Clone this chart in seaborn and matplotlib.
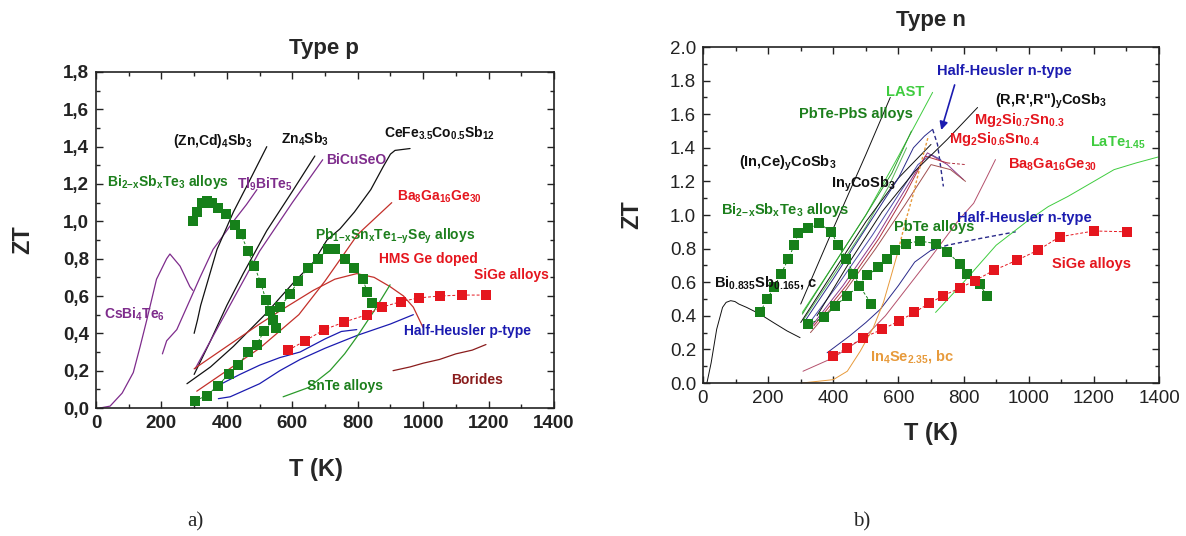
import matplotlib
matplotlib.use("Agg")
import matplotlib.pyplot as plt
from matplotlib.ticker import MultipleLocator
import seaborn as sns

# ---------------- data : Type p ----------------
cs_T = [12, 43, 80, 114, 135, 155, 185, 216, 226, 257, 287, 296]
cs_ZT = [0.0, 0.01, 0.08, 0.19, 0.33, 0.47, 0.69, 0.80, 0.825, 0.76, 0.65, 0.63]
tl_T = [203, 216, 247, 280, 318, 358, 379, 420, 460, 492]
tl_ZT = [0.29, 0.36, 0.42, 0.55, 0.70, 0.85, 0.90, 1.00, 1.09, 1.17]
zncd_T = [300, 310, 320, 370, 420, 470, 522]
zncd_ZT = [0.40, 0.47, 0.55, 0.85, 1.05, 1.22, 1.40]
zn4_T = [300, 350, 400, 450, 522, 600, 669]
zn4_ZT = [0.18, 0.36, 0.55, 0.72, 0.95, 1.16, 1.35]
bicu_T = [303, 350, 400, 450, 500, 600, 693]
bicu_ZT = [0.21, 0.36, 0.52, 0.68, 0.84, 1.10, 1.33]
cefe_T = [278, 350, 420, 471, 522, 562, 603, 664, 706, 746, 790, 840, 877, 900, 914, 960]
cefe_ZT = [0.13, 0.22, 0.33, 0.42, 0.51, 0.59, 0.67, 0.78, 0.90, 0.96, 1.05, 1.17, 1.29, 1.36, 1.38, 1.39]
bap_T = [308, 400, 500, 560, 620, 700, 800, 904]
bap_ZT = [0.09, 0.20, 0.32, 0.41, 0.50, 0.68, 0.93, 1.10]
hms_T = [300, 400, 500, 562, 664, 730, 797, 850, 899, 940, 970, 1000]
hms_ZT = [0.21, 0.33, 0.45, 0.52, 0.63, 0.69, 0.72, 0.70, 0.65, 0.60, 0.54, 0.43]
hh1_T = [384, 440, 501, 562, 624, 700, 750, 797]
hh1_ZT = [0.13, 0.18, 0.23, 0.27, 0.30, 0.37, 0.41, 0.42]
hh2_T = [374, 410, 500, 562, 624, 700, 800, 900, 970]
hh2_ZT = [0.05, 0.06, 0.13, 0.20, 0.26, 0.32, 0.39, 0.45, 0.50]
snte_T = [572, 650, 715, 760, 797, 850, 899]
snte_ZT = [0.06, 0.11, 0.20, 0.29, 0.38, 0.52, 0.66]
bor_T = [908, 960, 1000, 1050, 1100, 1150, 1192]
bor_ZT = [0.20, 0.22, 0.24, 0.26, 0.29, 0.31, 0.34]
bisb_p_T = [296, 308, 323, 338, 354, 373, 397, 425, 443, 465, 484, 504, 519, 532, 540, 550]
bisb_p_ZT = [1.00, 1.05, 1.10, 1.11, 1.10, 1.07, 1.04, 0.98, 0.93, 0.84, 0.76, 0.67, 0.58, 0.52, 0.47, 0.43]
pb_T = [303, 338, 372, 406, 435, 465, 491, 513, 540, 562, 593, 618, 648, 679, 709, 730, 761, 789, 816, 829, 844]
pb_ZT = [0.04, 0.065, 0.12, 0.18, 0.23, 0.30, 0.34, 0.41, 0.47, 0.54, 0.61, 0.68, 0.75, 0.80, 0.85, 0.85, 0.80, 0.75, 0.69, 0.62, 0.56]
sigep_T = [588, 639, 698, 758, 828, 874, 932, 988, 1051, 1119, 1192]
sigep_ZT = [0.31, 0.36, 0.42, 0.46, 0.50, 0.54, 0.57, 0.59, 0.60, 0.605, 0.605]

# ---------------- data : Type n ----------------
bi835_T = [12, 25, 42, 60, 71, 85, 98, 110, 134, 175, 216, 258, 298]
bi835_ZT = [0.0, 0.12, 0.32, 0.45, 0.48, 0.49, 0.485, 0.47, 0.45, 0.41, 0.36, 0.31, 0.27]
bisb_n_T = [175, 197, 218, 240, 262, 280, 292, 323, 357, 394, 415, 440, 462, 480, 517]
bisb_n_ZT = [0.42, 0.50, 0.57, 0.65, 0.74, 0.82, 0.89, 0.92, 0.95, 0.90, 0.82, 0.74, 0.65, 0.58, 0.47]
pbte_T = [323, 372, 406, 443, 480, 505, 538, 566, 591, 624, 665, 714, 750, 788, 812, 849, 871]
pbte_ZT = [0.35, 0.39, 0.46, 0.52, 0.58, 0.64, 0.69, 0.74, 0.79, 0.83, 0.845, 0.83, 0.78, 0.71, 0.65, 0.59, 0.52]
sigen_T = [400, 443, 492, 551, 603, 649, 695, 738, 788, 836, 892, 963, 1028, 1095, 1200, 1302]
sigen_ZT = [0.16, 0.21, 0.27, 0.32, 0.37, 0.42, 0.475, 0.52, 0.565, 0.61, 0.67, 0.73, 0.79, 0.87, 0.905, 0.90]
inc_T = [300, 400, 500, 575]
inc_ZT = [0.47, 0.92, 1.36, 1.70]
last_T = [305, 400, 500, 600, 705]
last_ZT = [0.42, 0.70, 1.00, 1.35, 1.73]
pbs1_T = [305, 400, 500, 580, 640]
pbs1_ZT = [0.41, 0.70, 1.00, 1.25, 1.50]
pbs2_T = [310, 400, 500, 570, 625]
pbs2_ZT = [0.38, 0.64, 0.93, 1.17, 1.40]
inco_T = [300, 400, 500, 600, 700]
inco_ZT = [0.36, 0.66, 0.96, 1.22, 1.42]
hht1_T = [310, 400, 500, 600, 646, 680, 705, 720, 738]
hht1_ZT = [0.36, 0.62, 0.92, 1.22, 1.40, 1.47, 1.51, 1.42, 1.17]
hht2_T = [320, 420, 520, 600, 660, 700, 730]
hht2_ZT = [0.34, 0.60, 0.88, 1.12, 1.30, 1.36, 1.33]
purp_T = [330, 430, 530, 620, 689, 750, 800]
purp_ZT = [0.33, 0.58, 0.86, 1.15, 1.37, 1.30, 1.21]
mg73_T = [340, 440, 540, 620, 683, 750, 806]
mg73_ZT = [0.34, 0.58, 0.86, 1.12, 1.35, 1.31, 1.30]
mg64_T = [330, 430, 530, 620, 700, 760, 806]
mg64_ZT = [0.30, 0.53, 0.80, 1.06, 1.30, 1.27, 1.20]
rrr_T = [350, 450, 550, 650, 750, 843]
rrr_ZT = [0.40, 0.72, 1.02, 1.26, 1.45, 1.64]
ban_T = [307, 400, 500, 560, 620, 700, 785, 831, 870, 898]
ban_ZT = [0.07, 0.15, 0.28, 0.40, 0.55, 0.75, 0.97, 1.07, 1.22, 1.33]
hhl_T = [381, 450, 500, 545, 600, 650, 700, 750, 850, 960]
hhl_ZT = [0.18, 0.28, 0.36, 0.44, 0.58, 0.72, 0.79, 0.82, 0.86, 0.90]
late_T = [714, 800, 900, 1000, 1060, 1120, 1200, 1262, 1330, 1397]
late_ZT = [0.42, 0.60, 0.82, 0.97, 1.05, 1.11, 1.20, 1.27, 1.31, 1.345]
in4_T = [304, 400, 443, 483, 523, 554, 575, 597, 620, 645, 668, 692]
in4_ZT = [0.0, 0.02, 0.07, 0.19, 0.33, 0.48, 0.62, 0.77, 0.95, 1.12, 1.30, 1.47]

# ticks
x_ticks = [0, 200, 400, 600, 800, 1000, 1200, 1400]
yticks_p = [0, 0.2, 0.4, 0.6, 0.8, 1.0, 1.2, 1.4, 1.6, 1.8]
ylabels_p = ["0,0", "0,2", "0,4", "0,6", "0,8", "1,0", "1,2", "1,4", "1,6", "1,8"]
yticks_n = [0, 0.2, 0.4, 0.6, 0.8, 1.0, 1.2, 1.4, 1.6, 1.8, 2.0]
ylabels_n = ["0.0", "0.2", "0.4", "0.6", "0.8", "1.0", "1.2", "1.4", "1.6", "1.8", "2.0"]

BLACK = "#111111"
GREEN = "#1c7f1c"
SQGREEN = "#16801a"
RED = "#e5161e"
PURPLE = "#7e2c8c"
BLUE = "#1b1bb0"
BROWN = "#8a1c1c"
DRED = "#c3302a"
LGREEN = "#3fcc3f"
ORANGE = "#e79a3b"
MAUVE = "#b4506c"
NAVY = "#2a2a8a"

# text labels (text, T, ZT, colour)
labels_p = [
    ("(Zn,Cd)$_4$Sb$_3$", 358, 1.43, BLACK),
    ("Zn$_4$Sb$_3$", 640, 1.44, BLACK),
    ("CeFe$_{3.5}$Co$_{0.5}$Sb$_{12}$", 1051, 1.47, BLACK),
    ("BiCuSeO", 795, 1.33, PURPLE),
    ("Tl$_9$BiTe$_5$", 516, 1.20, PURPLE),
    ("Bi$_{2\\!-\\!x}$Sb$_x$Te$_3$ alloys", 221, 1.21, GREEN),
    ("Ba$_8$Ga$_{16}$Ge$_{30}$", 1049, 1.13, RED),
    ("Pb$_{1\\!-\\!x}$Sn$_x$Te$_{1\\!-\\!y}$Se$_y$ alloys", 914, 0.92, GREEN),
    ("HMS Ge doped", 1016, 0.80, RED),
    ("SiGe alloys", 1269, 0.71, RED),
    ("Half-Heusler p-type", 1135, 0.41, BLUE),
    ("SnTe alloys", 761, 0.12, GREEN),
    ("Borides", 1165, 0.15, BROWN),
    ("CsBi$_4$Te$_6$", 119, 0.50, PURPLE),
]
labels_n = [
    ("Half-Heusler n-type", 926, 1.86, BLUE),
    ("LAST", 622, 1.73, LGREEN),
    ("PbTe-PbS alloys", 471, 1.60, GREEN),
    ("(R,R',R'')$_y$CoSb$_3$", 1068, 1.675, BLACK),
    ("Mg$_2$Si$_{0.7}$Sn$_{0.3}$", 972, 1.565, RED),
    ("Mg$_2$Si$_{0.6}$Sn$_{0.4}$", 895, 1.45, RED),
    ("LaTe$_{1.45}$", 1274, 1.43, LGREEN),
    ("(In,Ce)$_y$CoSb$_3$", 259, 1.31, BLACK),
    ("Ba$_8$Ga$_{16}$Ge$_{30}$", 1074, 1.30, RED),
    ("In$_y$CoSb$_3$", 492, 1.18, BLACK),
    ("Bi$_{2\\!-\\!x}$Sb$_x$Te$_3$ alloys", 252, 1.03, GREEN),
    ("Half-Heusler n-type", 988, 0.98, BLUE),
    ("PbTe alloys", 711, 0.93, GREEN),
    ("Bi$_{0.835}$Sb$_{0.165}$, c", 194, 0.60, BLACK),
    ("SiGe alloys", 1194, 0.71, RED),
    ("In$_4$Se$_{2.35}$, bc", 643, 0.155, ORANGE),
]

sns.set_theme(style="ticks")
plt.rcParams['font.family'] = ['Liberation Sans', 'DejaVu Sans']
plt.rcParams['mathtext.fontset'] = 'custom'
plt.rcParams['mathtext.rm'] = 'Liberation Sans:bold'
plt.rcParams['mathtext.it'] = 'Liberation Sans:bold'
plt.rcParams['mathtext.bf'] = 'Liberation Sans:bold'


def line(ax, T, Z, color, lw=0.9, ls='-'):
    sns.lineplot(x=T, y=Z, ax=ax, color=color, lw=lw, linestyle=ls,
                 sort=False, estimator=None, legend=False)


def squares(ax, T, Z, color):
    sns.lineplot(x=T, y=Z, ax=ax, color=color, lw=0.7, linestyle=(0, (3, 2)),
                 marker='s', markersize=6.5, markeredgewidth=0,
                 sort=False, estimator=None, legend=False)


def style_axes(ax, yt, yl, bold):
    w = 'bold' if bold else 'normal'
    ax.set_xlim(0, 1400)
    ax.set_ylim(yt[0], yt[-1])
    ax.set_xticks(x_ticks)
    ax.set_xticklabels([str(v) for v in x_ticks], fontsize=13.5, fontweight=w)
    ax.set_yticks(yt)
    ax.set_yticklabels(yl, fontsize=13.5, fontweight=w)
    ax.xaxis.set_minor_locator(MultipleLocator(100))
    ax.yaxis.set_minor_locator(MultipleLocator(0.1))
    ax.tick_params(which='both', direction='in', top=True, right=True,
                   width=1.0, colors='#222222')
    ax.tick_params(which='major', length=5, pad=5)
    ax.tick_params(which='minor', length=3)
    for s in ax.spines.values():
        s.set_visible(True)
        s.set_linewidth(1.2)
        s.set_color('#222222')
    ax.set_xlabel("T (K)", fontsize=17, fontweight='bold')
    ax.set_ylabel("ZT", fontsize=17, fontweight='bold')


fig = plt.figure(figsize=(11.86, 5.36), dpi=100)
axp = fig.add_axes([96 / 1186, 1 - 408 / 536, 458 / 1186, 336 / 536])
axn = fig.add_axes([703 / 1186, 1 - 383 / 536, 456 / 1186, 336 / 536])

# ---- Type p ----
line(axp, cs_T, cs_ZT, PURPLE)
line(axp, tl_T, tl_ZT, PURPLE)
line(axp, zncd_T, zncd_ZT, BLACK)
line(axp, zn4_T, zn4_ZT, BLACK)
line(axp, bicu_T, bicu_ZT, PURPLE)
line(axp, cefe_T, cefe_ZT, BLACK)
line(axp, bap_T, bap_ZT, DRED)
line(axp, hms_T, hms_ZT, DRED)
line(axp, hh1_T, hh1_ZT, BLUE)
line(axp, hh2_T, hh2_ZT, BLUE)
line(axp, snte_T, snte_ZT, "#2a9a2a")
line(axp, bor_T, bor_ZT, BROWN)
squares(axp, bisb_p_T, bisb_p_ZT, SQGREEN)
squares(axp, pb_T, pb_ZT, SQGREEN)
squares(axp, sigep_T, sigep_ZT, RED)
for txt, x, y, c in labels_p:
    axp.text(x, y, txt, color=c, fontsize=10, fontweight='bold', ha='center', va='center')
style_axes(axp, yticks_p, ylabels_p, True)
axp.yaxis.set_label_coords(-0.135, 0.5)
axp.xaxis.set_label_coords(0.48, -0.15)
axp.text(0.498, 1.07, "Type p", transform=axp.transAxes, fontsize=16,
         fontweight='bold', ha='center', va='center')

# ---- Type n ----
lw_n = 0.7
line(axn, bi835_T, bi835_ZT, BLACK, lw_n)
line(axn, inc_T, inc_ZT, BLACK, lw_n)
line(axn, last_T, last_ZT, LGREEN, lw_n)
line(axn, pbs1_T, pbs1_ZT, "#2e9a2e", lw_n)
line(axn, pbs2_T, pbs2_ZT, "#58b858", lw_n)
line(axn, inco_T, inco_ZT, BLACK, lw_n)
line(axn, hht1_T[:7], hht1_ZT[:7], NAVY, lw_n)
line(axn, hht1_T[6:], hht1_ZT[6:], NAVY, 1.0, (0, (3, 2)))
line(axn, hht2_T, hht2_ZT, "#4a4aa8", lw_n)
line(axn, purp_T, purp_ZT, "#8a3a8e", lw_n)
line(axn, mg73_T[:6], mg73_ZT[:6], "#b03040", lw_n)
line(axn, mg73_T[5:], mg73_ZT[5:], "#b03040", lw_n, (0, (3, 2)))
line(axn, mg64_T, mg64_ZT, "#a05050", lw_n)
line(axn, rrr_T, rrr_ZT, BLACK, lw_n)
line(axn, ban_T, ban_ZT, MAUVE, lw_n)
line(axn, hhl_T[:7], hhl_ZT[:7], NAVY, lw_n)
line(axn, hhl_T[6:], hhl_ZT[6:], NAVY, 1.0, (0, (3, 2)))
line(axn, late_T, late_ZT, LGREEN, lw_n)
line(axn, in4_T[:8], in4_ZT[:8], ORANGE, lw_n)
line(axn, in4_T[7:], in4_ZT[7:], ORANGE, 1.0, (0, (2, 1.5)))
squares(axn, bisb_n_T, bisb_n_ZT, SQGREEN)
squares(axn, pbte_T, pbte_ZT, SQGREEN)
squares(axn, sigen_T, sigen_ZT, RED)
for txt, x, y, c in labels_n:
    axn.text(x, y, txt, color=c, fontsize=10.5, fontweight='bold', ha='center', va='center')
axn.annotate('', xy=(729, 1.49), xytext=(775, 1.79),
             arrowprops=dict(arrowstyle='-|>', color=BLUE, lw=1.2, mutation_scale=12))
style_axes(axn, yticks_n, ylabels_n, False)
axn.yaxis.set_label_coords(-0.13, 0.5)
axn.xaxis.set_label_coords(0.5, -0.115)
axn.text(0.5, 1.08, "Type n", transform=axn.transAxes, fontsize=16,
         fontweight='bold', ha='center', va='center')

fig.text(195 / 1186, 1 - 522 / 536, "a)", fontsize=15, family='Liberation Serif',
         ha='center', va='center')
fig.text(862 / 1186, 1 - 522 / 536, "b)", fontsize=15, family='Liberation Serif',
         ha='center', va='center')

fig.savefig("out.png", dpi=100, facecolor='white')
